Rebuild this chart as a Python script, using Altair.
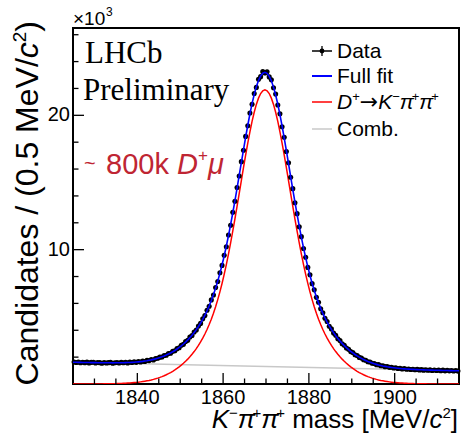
import altair as alt
import pandas as pd

# ---------------- data (values in units of 10^3 candidates) ----------------
mass = [1825.25 + 0.5 * i for i in range(180)]  # bin centres, 0.5 MeV bins

data_vals = [
    1.64, 1.60, 1.63, 1.58, 1.62, 1.59, 1.63, 1.57, 1.61, 1.62, 1.56, 1.60, 1.59, 1.55, 1.60, 1.56, 1.59, 1.61, 1.55, 1.58,
    1.60, 1.56, 1.61, 1.58, 1.62, 1.57, 1.63, 1.60, 1.65, 1.61, 1.67, 1.64, 1.70, 1.68, 1.76, 1.74, 1.82, 1.79, 1.89, 1.92,
    2.00, 2.01, 2.12, 2.14, 2.27, 2.29, 2.44, 2.48, 2.63, 2.70, 2.88, 2.95, 3.16, 3.25, 3.49, 3.61, 3.87, 4.02, 4.31, 4.51,
    4.85, 5.09, 5.49, 5.79, 6.26, 6.62, 7.18, 7.63, 8.28, 8.83, 9.58, 10.22, 11.09, 11.82, 12.78, 13.60, 14.63, 15.48, 16.55, 17.40,
    18.43, 19.22, 20.17, 20.82, 21.62, 22.08, 22.68, 22.88, 23.25, 23.15, 23.24, 22.86, 22.64, 22.05, 21.58, 20.77, 20.12, 19.15, 18.37, 17.31,
    16.47, 15.39, 14.54, 13.49, 12.68, 11.70, 10.97, 10.09, 9.44, 8.68, 8.13, 7.47, 7.01, 6.45, 6.08, 5.60, 5.30, 4.89, 4.65, 4.30,
    4.10, 3.79, 3.63, 3.37, 3.23, 3.00, 2.89, 2.68, 2.59, 2.41, 2.34, 2.18, 2.12, 1.98, 1.93, 1.81, 1.77, 1.66, 1.64, 1.54,
    1.53, 1.44, 1.44, 1.36, 1.36, 1.29, 1.30, 1.24, 1.25, 1.19, 1.21, 1.15, 1.17, 1.12, 1.15, 1.10, 1.12, 1.08, 1.10, 1.06,
    1.09, 1.05, 1.07, 1.03, 1.06, 1.02, 1.05, 1.01, 1.04, 1.00, 1.03, 0.99, 1.03, 0.98, 1.02, 0.98, 1.01, 0.97, 1.00, 0.96,
]

curve_mass = [1825.0] + mass + [1915.0]

full_fit = [1.621,
    1.619, 1.616, 1.612, 1.610, 1.606, 1.602, 1.600, 1.596, 1.594, 1.590, 1.588, 1.585, 1.584, 1.581, 1.579, 1.578, 1.577, 1.577, 1.576, 1.577,
    1.578, 1.580, 1.582, 1.585, 1.590, 1.596, 1.603, 1.612, 1.623, 1.635, 1.650, 1.666, 1.685, 1.708, 1.733, 1.762, 1.794, 1.831, 1.871, 1.918,
    1.968, 2.023, 2.086, 2.154, 2.230, 2.310, 2.401, 2.497, 2.604, 2.719, 2.843, 2.977, 3.123, 3.280, 3.449, 3.634, 3.833, 4.049, 4.283, 4.537,
    4.817, 5.120, 5.453, 5.817, 6.217, 6.655, 7.136, 7.661, 8.234, 8.858, 9.531, 10.258, 11.035, 11.860, 12.728, 13.634, 14.569, 15.521, 16.482, 17.435,
    18.368, 19.261, 20.100, 20.867, 21.548, 22.128, 22.591, 22.930, 23.135, 23.202, 23.128, 22.916, 22.570, 22.100, 21.512, 20.824, 20.050, 19.204, 18.304, 17.364,
    16.404, 15.436, 14.477, 13.534, 12.621, 11.746, 10.914, 10.130, 9.396, 8.716, 8.085, 7.505, 6.972, 6.484, 6.039, 5.632, 5.261, 4.921, 4.611, 4.324,
    4.063, 3.821, 3.598, 3.392, 3.200, 3.024, 2.860, 2.707, 2.566, 2.435, 2.312, 2.198, 2.095, 1.997, 1.910, 1.827, 1.752, 1.682, 1.620, 1.562,
    1.508, 1.461, 1.417, 1.378, 1.342, 1.310, 1.280, 1.254, 1.230, 1.208, 1.189, 1.171, 1.155, 1.141, 1.128, 1.116, 1.106, 1.096, 1.087, 1.079,
    1.071, 1.065, 1.058, 1.052, 1.046, 1.041, 1.036, 1.030, 1.026, 1.021, 1.018, 1.013, 1.010, 1.005, 1.002, 0.998, 0.993, 0.990, 0.986, 0.983,
    0.981]

signal = [0.001,
    0.001, 0.001, 0.001, 0.002, 0.002, 0.002, 0.003, 0.003, 0.004, 0.004, 0.005, 0.006, 0.008, 0.009, 0.011, 0.013, 0.016, 0.019, 0.022, 0.026,
    0.031, 0.036, 0.042, 0.049, 0.057, 0.067, 0.077, 0.090, 0.104, 0.120, 0.138, 0.158, 0.181, 0.207, 0.236, 0.268, 0.304, 0.344, 0.388, 0.438,
    0.492, 0.551, 0.617, 0.689, 0.768, 0.852, 0.946, 1.046, 1.156, 1.275, 1.403, 1.540, 1.690, 1.850, 2.023, 2.211, 2.414, 2.633, 2.871, 3.129,
    3.412, 3.719, 4.055, 4.423, 4.826, 5.268, 5.752, 6.281, 6.858, 7.485, 8.162, 8.892, 9.673, 10.501, 11.373, 12.282, 13.221, 14.177, 15.141, 16.098,
    17.034, 17.931, 18.773, 19.544, 20.228, 20.812, 21.279, 21.621, 21.830, 21.900, 21.830, 21.621, 21.279, 20.812, 20.228, 19.544, 18.773, 17.931, 17.034, 16.098,
    15.141, 14.177, 13.221, 12.282, 11.373, 10.501, 9.673, 8.892, 8.162, 7.485, 6.858, 6.281, 5.752, 5.268, 4.826, 4.423, 4.055, 3.719, 3.412, 3.129,
    2.871, 2.633, 2.414, 2.211, 2.023, 1.850, 1.690, 1.540, 1.403, 1.275, 1.156, 1.046, 0.946, 0.852, 0.768, 0.689, 0.617, 0.551, 0.492, 0.438,
    0.388, 0.344, 0.304, 0.268, 0.236, 0.207, 0.181, 0.158, 0.138, 0.120, 0.104, 0.090, 0.077, 0.067, 0.057, 0.049, 0.042, 0.036, 0.031, 0.026,
    0.022, 0.019, 0.016, 0.013, 0.011, 0.009, 0.008, 0.006, 0.005, 0.004, 0.004, 0.003, 0.003, 0.002, 0.002, 0.002, 0.001, 0.001, 0.001, 0.001,
    0.001]

comb_mass = [1825.0, 1915.0]
comb = [1.62, 0.98]

x_major = [1840, 1860, 1880, 1900]
x_minor = [1830, 1835, 1845, 1850, 1855, 1865, 1870, 1875, 1885, 1890, 1895, 1905, 1910]
y_major = [10, 20]
y_minor = [2, 4, 6, 8, 12, 14, 16, 18, 22, 24, 26]

# ---------------- layout ----------------
L, T = 73, 28          # plot origin in page pixels
W, H = 386, 356        # plot area
SANS = "Liberation Sans"
SERIF = "Liberation Serif"
DJV = "DejaVu Sans"
RED_TXT = "#bf2533"

xs = alt.Scale(domain=[1825, 1915], nice=False, zero=False)
ys = alt.Scale(domain=[0, 26.5], nice=False, zero=False)

ONE = pd.DataFrame({"o": [0]})

CW = {' ': .278, '(': .333, ')': .333, '.': .278, '/': .278, '[': .278, ']': .278, '~': .584, '+': .584,
      '−': .584, '→': .838, '×': .584, 'A': .667, 'C': .722, 'D': .722, 'F': .611, 'K': .667, 'M': .833,
      'V': .667, 'a': .556, 'b': .556, 'c': .5, 'd': .556, 'e': .556, 'f': .278, 'i': .222, 'k': .5,
      'l': .222, 'm': .833, 'n': .556, 'o': .556, 'r': .333, 's': .5, 't': .278, 'u': .556, 'y': .5,
      'π': .57, 'μ': .576}


def tw(s, size):
    return sum(CW.get(ch, .556) for ch in s) * size


def txt(t, px, py, size, style="normal", color="black", font=SANS, align="left", baseline="alphabetic", angle=0):
    kw = dict(text=t, font=font, fontSize=size, fontStyle=style, color=color, align=align, baseline=baseline)
    if angle:
        kw["angle"] = angle
    return alt.Chart(ONE).mark_text(**kw).encode(x=alt.value(px - L), y=alt.value(py - T))


def rich(pieces, x, y, anchor="left", angle=0, color="black"):
    widths = [tw(p[0], p[1]) for p in pieces]
    u = -sum(widths) if anchor == "right" else 0
    out = []
    for p, w in zip(pieces, widths):
        t, size, style, rise = p[:4]
        font = p[4] if len(p) > 4 else SANS
        lead = len(t) - len(t.lstrip(" "))
        off = lead * CW[' '] * size
        s = t.strip(" ")
        if angle == 0:
            out.append(txt(s, x + u + off, y - rise, size, style, color, font=font))
        else:
            out.append(txt(s, x - rise, y - u - off, size, style, color, font=font, angle=angle))
        u += w
    return out


df_data = pd.DataFrame({"m": mass, "n": data_vals})
df_curve = pd.DataFrame({"m": curve_mass, "full": full_fit, "sig": signal})
df_comb = pd.DataFrame({"m": comb_mass, "c": comb})

X = lambda f: alt.X(f, type="quantitative", scale=xs, axis=None)
Y = lambda f: alt.Y(f, type="quantitative", scale=ys, axis=None)

comb_line = alt.Chart(df_comb).mark_line(color="#c8c8c8", strokeWidth=1.5, clip=True).encode(x=X("m"), y=Y("c"))
sig_line = alt.Chart(df_curve).mark_line(color="#ff0000", strokeWidth=1.5, clip=True).encode(x=X("m"), y=Y("sig"))
points = alt.Chart(df_data).mark_circle(color="black", size=26, opacity=1).encode(x=X("m"), y=Y("n"))
full_line = alt.Chart(df_curve).mark_line(color="#0000ff", strokeWidth=1.6, clip=True).encode(x=X("m"), y=Y("full"))


def xticks(vals, ln):
    return alt.Chart(pd.DataFrame({"v": vals})).mark_rule(color="black", strokeWidth=1.3).encode(
        x=X("v"), y=alt.value(H), y2=alt.value(H - ln))


def yticks(vals, ln):
    return alt.Chart(pd.DataFrame({"v": vals})).mark_rule(color="black", strokeWidth=1.3).encode(
        y=Y("v"), x=alt.value(0), x2=alt.value(ln))


xlab = alt.Chart(pd.DataFrame({"v": x_major})).mark_text(font=SANS, fontSize=20, baseline="alphabetic", align="center").encode(
    x=X("v"), y=alt.value(H + 20), text=alt.Text("v:Q", format="d"))
ylab = alt.Chart(pd.DataFrame({"v": y_major})).mark_text(font=SANS, fontSize=20, baseline="middle", align="right").encode(
    y=Y("v"), x=alt.value(-3), text=alt.Text("v:Q", format="d"))

layers = [comb_line, sig_line, points, full_line,
          xticks(x_major, 11), xticks(x_minor, 5.5), yticks(y_major, 11), yticks(y_minor, 5.5),
          xlab, ylab]

# x-axis title: K− π+ π+ mass [MeV/c2]
layers += rich([("K", 26, "italic", 0), ("−", 15, "normal", 10), ("π", 26, "italic", 0), ("+", 15, "normal", 10),
                ("π", 26, "italic", 0), ("+", 15, "normal", 10), (" mass [MeV/", 26, "normal", 0),
                ("c", 26, "italic", 0), ("2", 15, "normal", 10), ("]", 26, "normal", 0)],
               458, 428, anchor="right")

# y-axis title (rotated)
layers += rich([("Candidates / (0.5 MeV/", 32, "normal", 0), ("c", 32, "italic", 0),
                ("2", 19, "normal", 12), (")", 32, "normal", 0)],
               38, 21, anchor="right", angle=270)

# x10^3
layers += [txt("×10", 73, 25, 19), txt("3", 106, 16, 12)]

# LHCb Preliminary
layers += [txt("LHCb", 85, 63, 31, font=SERIF), txt("Preliminary", 83, 100, 31, font=SERIF)]

# ~ 800k D+ mu
layers += [txt("~", 84, 170, 20, color=RED_TXT), txt("800k", 106, 174, 29, color=RED_TXT),
           txt("D", 177, 174, 29, "italic", RED_TXT), txt("+", 198, 161, 17, color=RED_TXT),
           txt("μ", 208, 174, 29, "italic", RED_TXT)]

# legend
LX0, LX1, TX = 312, 332, 337
LEG = [(51, None), (76, "#0000ff"), (102, "#ff0000"), (129, "#c8c8c8")]
for yy, col in LEG:
    c = col if col else "black"
    layers.append(alt.Chart(ONE).mark_rule(color=c, strokeWidth=2 if col == "#0000ff" else 1.5).encode(
        x=alt.value(LX0 - L), x2=alt.value(LX1 - L), y=alt.value(yy - T)))
layers.append(alt.Chart(ONE).mark_rule(color="black", strokeWidth=1.3).encode(
    x=alt.value((LX0 + LX1) / 2 - L), y=alt.value(51 - 5 - T), y2=alt.value(51 + 5 - T)))
layers.append(alt.Chart(ONE).mark_circle(color="black", size=24, opacity=1).encode(
    x=alt.value((LX0 + LX1) / 2 - L), y=alt.value(51 - T)))
layers += [txt("Data", TX, 58, 21), txt("Full fit", TX, 83, 21), txt("Comb.", TX, 136, 21)]
layers += rich([("D", 21, "italic", 0), ("+", 13, "normal", 8), ("→", 22, "normal", 0, DJV), ("K", 21, "italic", 0),
                ("−", 13, "normal", 8), ("π", 21, "italic", 0), ("+", 13, "normal", 8), ("π", 21, "italic", 0),
                ("+", 13, "normal", 8)], TX, 109)

chart = alt.layer(*layers).properties(
    width=W, height=H,
    padding={"left": L, "top": T, "right": 461 - L - W, "bottom": 436 - T - H},
    autosize=alt.AutoSizeParams(type="none"),
    background="white",
).configure_view(stroke="black", strokeWidth=2)

chart.save("out.html", embed_options={"renderer": "svg", "actions": False})
